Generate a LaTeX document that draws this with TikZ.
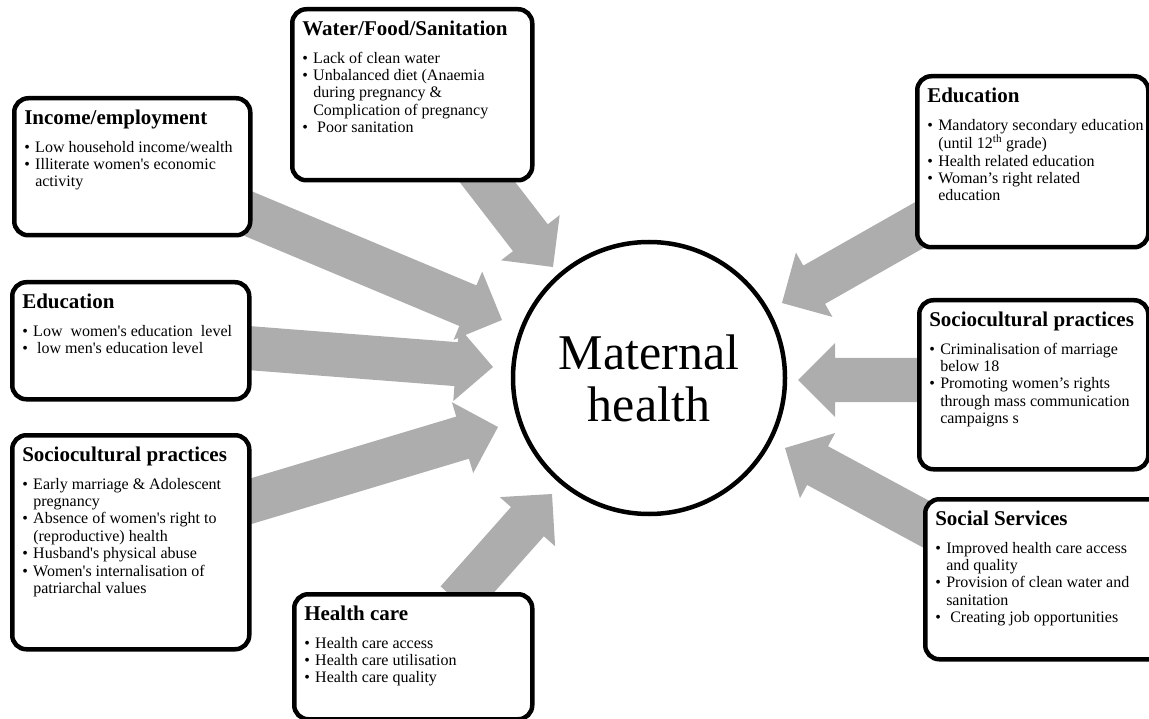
\documentclass[tikz,border=0pt]{standalone}
\usepackage{fontspec}
\setmainfont{Liberation Serif}[Ligatures=TeXOff]
\usetikzlibrary{calc}
\definecolor{arrowgray}{RGB}{173,173,173}
\newcommand\itm[1]{\par\hangindent=11pt\hangafter=1\noindent\makebox[11pt][l]{•}#1}
\newcommand\hd[1]{{\fontsize{21}{24}\selectfont\bfseries\rule{0pt}{16pt}#1\par}\vspace{10.5pt}}
\newcommand\boxbody[3]{\parbox[t][#2][t]{#1}{\fontsize{16}{17.4}\selectfont\raggedright\hbadness=10000\hfuzz=40pt #3}}
\newcommand\fatarrow[2]{%
  \coordinate (hb) at ($(#2)!37pt!(#1)$);
  \fill[arrowfill] ($(#1)!22pt!90:(#2)$) -- ($(hb)!22pt!-90:(#1)$) -- ($(hb)!37pt!-90:(#1)$)
    -- (#2) -- ($(hb)!37pt!90:(#1)$) -- ($(hb)!22pt!90:(#1)$) -- ($(#1)!22pt!-90:(#2)$) -- cycle;}
\tikzset{
  box/.style={draw, line width=4.5pt, rounded corners=14pt, fill=white,
    inner xsep=10pt, inner ysep=10pt, anchor=north west},
  arrowfill/.style={fill=arrowgray},
  hub/.style={circle, draw, line width=4.5pt, minimum size=272pt, inner sep=0pt,
    fill=white, align=center, font=\fontsize{50}{52}\selectfont}
}
\begin{document}
\begin{tikzpicture}[x=1pt,y=-1pt]
\useasboundingbox (0,0) rectangle (1149,719);
% arrow ends
\coordinate (tA) at (230,206); \coordinate (hA) at (502,320);
\coordinate (tB) at (475,166); \coordinate (hB) at (553,267);
\coordinate (tC) at (235,347); \coordinate (hC) at (493,367);
\coordinate (tD) at (235,506); \coordinate (hD) at (498,427);
\coordinate (tE) at (457,601); \coordinate (hE) at (552,494);
\coordinate (tF) at (930,219); \coordinate (hF) at (782,303);
\coordinate (tG) at (930,380); \coordinate (hG) at (798,380);
\coordinate (tH) at (935,529); \coordinate (hH) at (785,448);
\fatarrow{tA}{hA}
\fatarrow{tB}{hB}
\fatarrow{tC}{hC}
\fatarrow{tD}{hD}
\fatarrow{tE}{hE}
\fatarrow{tF}{hF}
\fatarrow{tG}{hG}
\fatarrow{tH}{hH}
% hub
\node[hub] (mh) at (649,378) {Maternal\\health};
% boxes
\node[box] (inc) at (12,96) {\boxbody{216pt}{117pt}{\hd{Income/employment}%
  \itm{Low household income/wealth}%
  \itm{Illiterate women's economic\newline activity}}};
\node[box] (wfs) at (290,7) {\boxbody{220pt}{151pt}{\hd{Water/Food/Sanitation}%
  \itm{Lack of clean water}%
  \itm{Unbalanced diet (Anaemia\newline during pregnancy \&\newline Complication of pregnancy}%
  \itm{\ Poor sanitation}}};
\node[box] (edR) at (915,74) {\boxbody{211pt}{151pt}{\hd{Education}%
  \itm{\mbox{Mandatory secondary education}\newline (until 12\textsuperscript{th} grade)}%
  \itm{Health related education}%
  \itm{Woman’s right related\newline education}}};
\node[box] (edL) at (10,280) {\boxbody{217pt}{97pt}{\hd{Education}%
  \itm{Low\ \ women's education\ \ level}%
  \itm{\ low men's education level}}};
\node[box] (scL) at (10,433) {\boxbody{217pt}{194pt}{\hd{Sociocultural practices}%
  \itm{Early marriage \& Adolescent\newline pregnancy}%
  \itm{Absence of women's right to\newline (reproductive) health}%
  \itm{Husband's physical abuse}%
  \itm{Women's internalisation of\newline patriarchal values}}};
\node[box] (scR) at (917,298) {\boxbody{209pt}{149pt}{\hd{Sociocultural practices}%
  \itm{Criminalisation of marriage\newline below 18}%
  \itm{Promoting women’s rights\newline through mass communication\newline campaigns s}}};
\node[box] (ss) at (923,497) {\boxbody{220pt}{140pt}{\hd{Social Services}%
  \itm{Improved health care access\newline and quality}%
  \itm{Provision of clean water and\newline sanitation}%
  \itm{\ Creating job opportunities}}};
\node[box] (hc) at (292,592) {\boxbody{218pt}{105pt}{\hd{Health care}%
  \itm{Health care access}%
  \itm{Health care utilisation}%
  \itm{Health care quality}}};
\end{tikzpicture}
\end{document}
